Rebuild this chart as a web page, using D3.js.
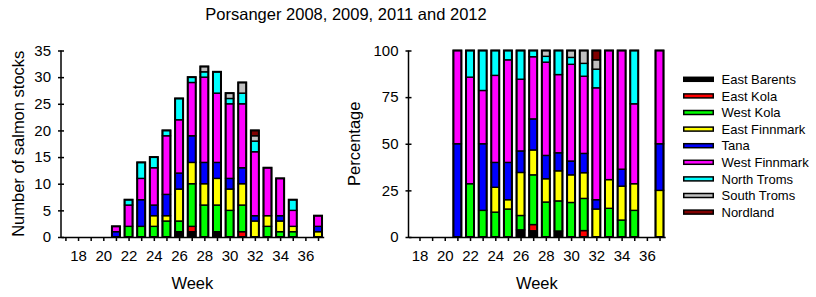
<!DOCTYPE html>
<html>
<head>
<meta charset="utf-8">
<script src="https://cdn.jsdelivr.net/npm/d3@7"></script>
<style>
  body { margin: 0; background: #fff; }
  svg { display: block; font-family: "Liberation Sans", Arial, sans-serif; }
  .axis path, .axis line { stroke: #000; stroke-width: 1.5; }
  .axis text { font-size: 15px; fill: #000; }
  .axis-title { font-size: 16.5px; fill: #000; }
  .legend text { font-size: 13px; fill: #000; }
</style>
</head>
<body>
<svg id="chart"></svg>
<script>
// Svg size.
const width = 816;
const height = 297;

// Weeks with data (week 36 had none).
const weeks = [21, 22, 23, 24, 25, 26, 27, 28, 29, 30, 31, 32, 33, 34, 35, 36, 37];

// Number of salmon stocks per week, one array per region.
const eastBarents  = [0, 0, 0, 0, 0, 1, 1, 0, 1, 0, 0, 0, 0, 0, 0, 0, 0];
const eastKola     = [0, 0, 0, 0, 0, 0, 1, 0, 0, 0, 1, 0, 0, 0, 0, 0, 0];
const westKola     = [0, 2, 2, 2, 3, 2, 8, 6, 5, 5, 5, 0, 2, 1, 1, 0, 0];
const eastFinnmark = [0, 0, 0, 2, 1, 6, 4, 4, 5, 4, 4, 3, 2, 2, 1, 0, 1];
const tana         = [1, 0, 5, 2, 4, 3, 5, 4, 3, 2, 3, 1, 0, 1, 0, 0, 1];
const westFinnmark = [1, 4, 4, 7, 11, 10, 10, 16, 13, 14, 12, 12, 9, 7, 3, 0, 2];
const northTroms   = [0, 1, 3, 2, 1, 4, 1, 1, 4, 1, 2, 2, 0, 0, 2, 0, 0];
const southTroms   = [0, 0, 0, 0, 0, 0, 0, 1, 0, 1, 2, 1, 0, 0, 0, 0, 0];
const nordland     = [0, 0, 0, 0, 0, 0, 0, 0, 0, 0, 0, 1, 0, 0, 0, 0, 0];

const regions = ["East Barents", "East Kola", "West Kola", "East Finnmark", "Tana",
  "West Finnmark", "North Troms", "South Troms", "Nordland"];
const regionValues = [eastBarents, eastKola, westKola, eastFinnmark, tana,
  westFinnmark, northTroms, southTroms, nordland];
const regionColors = ["#000000", "#ff0000", "#00ff00", "#ffff00", "#0000ff",
  "#ff00ff", "#00ffff", "#c0c0c0", "#800000"];

// Tick labels.
const weekTicks = [18, 20, 22, 24, 26, 28, 30, 32, 34, 36];
const weekMinor = d3.range(17, 38);
const countTicks = [0, 5, 10, 15, 20, 25, 30, 35];
const percentTicks = [0, 25, 50, 75, 100];

const svg = d3.select("#chart")
  .attr("width", width)
  .attr("height", height);

/*
 * Returns a translate string for the transform attribute.
 */
function translate(x, y) {
  return "translate(" + String(x) + "," + String(y) + ")";
}

// Build rows for d3.stack.
const table = weeks.map((w, i) => {
  let row = { week: w };
  regions.forEach((r, j) => row[r] = regionValues[j][i]);
  return row;
});

const color = d3.scaleOrdinal().domain(regions).range(regionColors);

// Shared vertical extent for both plots.
const plotTop = 50.5;
const plotBottom = 237;

const xLeft = d3.scaleLinear().domain([16.65, 37.45]).range([61, 323.7]);
const yLeft = d3.scaleLinear().domain([0, 35]).range([plotBottom, plotTop]);

const xRight = d3.scaleLinear().domain([17.13, 37.45]).range([408.5, 665.2]);
const yRight = d3.scaleLinear().domain([0, 100]).range([plotBottom, plotTop]);

const countStack = d3.stack().keys(regions)(table);
const percentStack = d3.stack().keys(regions).offset(d3.stackOffsetExpand)(table);

drawTitle();
drawBars(countStack, xLeft, yLeft, 1);
drawBars(percentStack, xRight, yRight, 100);
drawAxes(xLeft, yLeft, countTicks, 61);
drawAxes(xRight, yRight, percentTicks, 408.5);
drawAxisTitles(xLeft, 23.5, "Number of salmon stocks");
drawAxisTitles(xRight, 360, "Percentage");
drawLegend();

function drawTitle() {
  svg.append("text")
    .attr("class", "axis-title")
    .attr("x", 346)
    .attr("y", 20)
    .attr("text-anchor", "middle")
    .text("Porsanger 2008, 2009, 2011 and 2012");
}

/*
 * Stacked bars, every segment outlined in black,
 *  then a heavier outline round the whole bar.
 */
function drawBars(stack, x, y, k) {
  const barWidth = 8;
  let g = svg.append("g");

  g.selectAll("g")
    .data(stack)
    .enter()
    .append("g")
    .attr("fill", d => color(d.key))
    .selectAll("rect")
    .data(d => d.filter(p => p[1] - p[0] > 0))
    .enter()
    .append("rect")
    .attr("x", d => x(d.data.week) - barWidth / 2)
    .attr("y", d => y(d[1] * k))
    .attr("width", barWidth)
    .attr("height", d => y(d[0] * k) - y(d[1] * k))
    .attr("stroke", "#000")
    .attr("stroke-width", 1.4);

  // top layer holds the bar totals
  let totals = stack[stack.length - 1].filter(p => p[1] > 0);

  g.append("g")
    .selectAll("rect")
    .data(totals)
    .enter()
    .append("rect")
    .attr("x", d => x(d.data.week) - barWidth / 2)
    .attr("y", d => y(d[1] * k))
    .attr("width", barWidth)
    .attr("height", d => y(0) - y(d[1] * k))
    .attr("fill", "none")
    .attr("stroke", "#000")
    .attr("stroke-width", 2);
}

function drawAxes(x, y, yTicks, x0) {
  let xAxis = d3.axisBottom(x)
    .tickValues(weekMinor.filter(w => w >= x.domain()[0]))
    .tickSize(4)
    .tickSizeOuter(0)
    .tickFormat(d => weekTicks.includes(d) ? d : "");

  let xg = svg.append("g")
    .attr("class", "axis")
    .attr("transform", translate(0, plotBottom))
    .call(xAxis);
  xg.selectAll("text").attr("dy", "0.9em").attr("y", 10);

  let yAxis = d3.axisLeft(y)
    .tickValues(yTicks)
    .tickSize(3)
    .tickSizeOuter(0)
    .tickPadding(7);

  let yg = svg.append("g")
    .attr("class", "axis")
    .attr("transform", translate(x0, 0))
    .call(yAxis);

  // ticks cross the axis line
  yg.selectAll(".tick line").attr("x1", 3);
  yg.select(".domain").attr("d", "M0," + plotTop + "V" + plotBottom);
}

function drawAxisTitles(x, yTitleX, label) {
  let xMiddle = (x.range()[0] + x.range()[1]) / 2;
  let yMiddle = (plotTop + plotBottom) / 2;

  svg.append("text")
    .attr("class", "axis-title")
    .attr("x", xMiddle)
    .attr("y", 289)
    .attr("text-anchor", "middle")
    .text("Week");

  svg.append("g")
    .attr("transform", translate(yTitleX, yMiddle))
    .append("text")
    .attr("class", "axis-title")
    .attr("text-anchor", "middle")
    .attr("transform", "rotate(-90)")
    .text(label);
}

function drawLegend() {
  let legend = svg.append("g")
    .attr("class", "legend")
    .attr("transform", translate(683, 79.3));

  let item = legend.selectAll("g")
    .data(regions)
    .enter()
    .append("g")
    .attr("transform", (d, i) => translate(0, i * 16.6));

  item.append("rect")
    .attr("x", 0.75)
    .attr("y", -2)
    .attr("width", 29.5)
    .attr("height", 4)
    .attr("fill", d => color(d))
    .attr("stroke", "#000")
    .attr("stroke-width", 1.5);

  item.append("text")
    .attr("x", 38.5)
    .attr("dy", "0.36em")
    .text(d => d);
}
</script>
</body>
</html>
